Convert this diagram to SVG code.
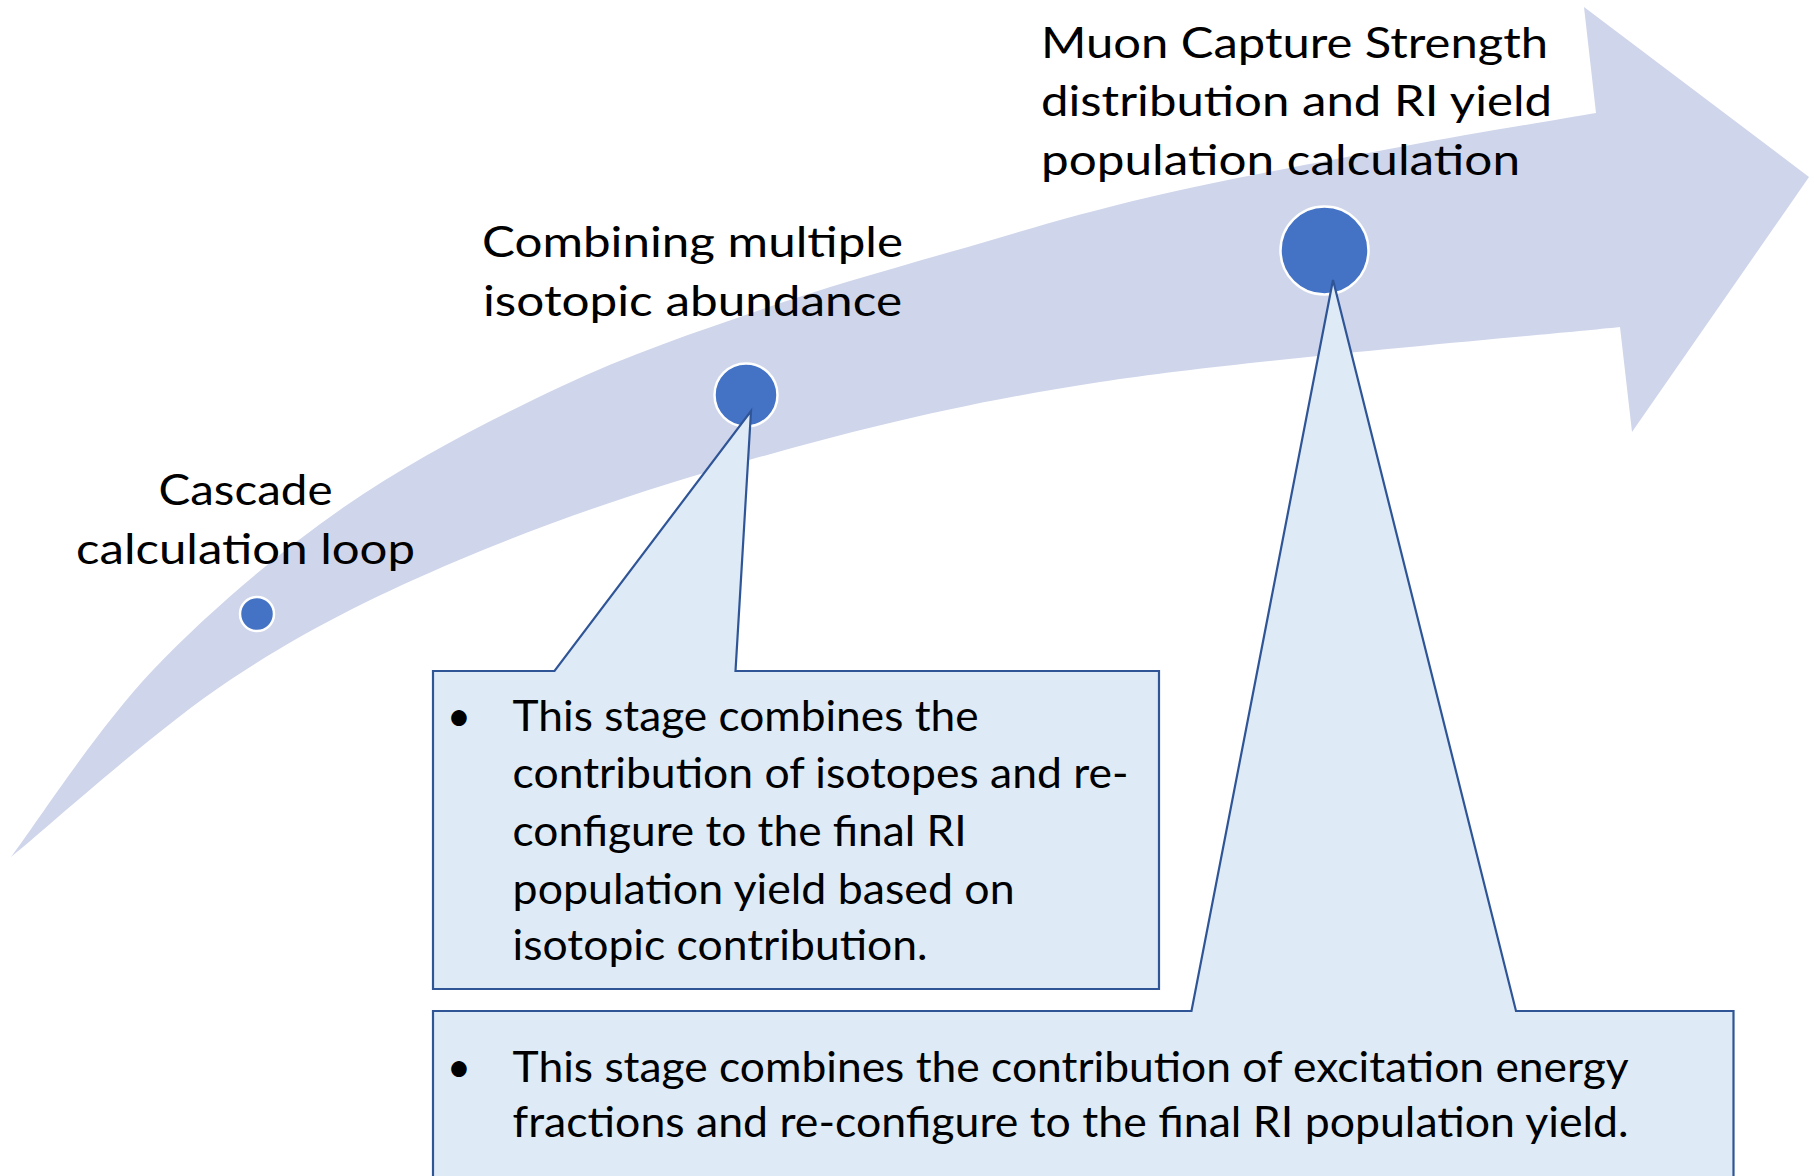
<svg xmlns="http://www.w3.org/2000/svg" width="1814" height="1176" viewBox="0 0 1814 1176">
<style>
  .band { fill: #CFD5EA; stroke: none; }
  .dot { fill: #4472C4; stroke: #FFFFFF; stroke-width: 2.5; }
  .callout { fill: #DEEBF7; stroke: #2F5597; stroke-width: 2.2; stroke-linejoin: miter; }
  .t { font-family: Lato, "Open Sans", "Liberation Sans", sans-serif; font-size: 42px; fill: #000000; }
</style>
<rect x="0" y="0" width="1814" height="1176" fill="#FFFFFF"/>

<g id="arrow">
  <path class="band" d="M 11,857
    C 34.7,825.8 97.5,728.3 153,670
    C 208.5,611.7 276.2,554.2 344,507
    C 411.8,459.8 490.7,419.8 560,387
    C 629.3,354.2 695,332.5 760,310
    C 825,287.5 885,270.8 950,252
    C 1015,233.2 1075,214.5 1150,197
    C 1225,179.5 1325.7,161 1400,147
    C 1474.3,133 1563.3,118.7 1596,113
    L 1584,7 L 1809,177 L 1632,432 L 1620,327
    C 1533.3,336.2 1245.2,359.8 1100,382
    C 954.8,404.2 855.8,430.3 749,460
    C 642.2,489.7 545.5,523.3 459,560
    C 372.5,596.7 304.7,630.5 230,680
    C 155.3,729.5 47.5,827.5 11,857 Z"/>
</g>

<g id="stage1">
  <text class="t" x="245.5" y="505" text-anchor="middle" textLength="174" lengthAdjust="spacingAndGlyphs">Cascade</text>
  <text class="t" x="245.5" y="564" text-anchor="middle" textLength="339" lengthAdjust="spacingAndGlyphs">calculation loop</text>
  <circle class="dot" cx="257" cy="614" r="17"/>
</g>

<g id="stage2">
  <text class="t" x="482" y="257" textLength="421" lengthAdjust="spacingAndGlyphs">Combining multiple</text>
  <text class="t" x="483" y="316" textLength="419" lengthAdjust="spacingAndGlyphs">isotopic abundance</text>
  <circle class="dot" cx="746" cy="395" r="31.5"/>
</g>

<g id="stage3">
  <text class="t" x="1041" y="57.5" textLength="507" lengthAdjust="spacingAndGlyphs">Muon Capture Strength</text>
  <text class="t" x="1041" y="116" textLength="511" lengthAdjust="spacingAndGlyphs">distribution and RI yield</text>
  <text class="t" x="1041" y="174.5" textLength="479" lengthAdjust="spacingAndGlyphs">population calculation</text>
  <circle class="dot" cx="1324.5" cy="250.5" r="44"/>
</g>

<g id="callout1">
  <path class="callout" d="M 433,671 L 554.5,671 L 751,411 L 735.5,671 L 1159,671 L 1159,989 L 433,989 Z"/>
  <text class="t" x="459" y="731" text-anchor="middle">•</text>
  <text class="t" x="512.6" y="731" textLength="466" lengthAdjust="spacingAndGlyphs">This stage combines the</text>
  <text class="t" x="512.6" y="788" textLength="616" lengthAdjust="spacingAndGlyphs">contribution of isotopes and re-</text>
  <text class="t" x="512.6" y="846" textLength="454" lengthAdjust="spacingAndGlyphs">configure to the final RI</text>
  <text class="t" x="512.6" y="903.5" textLength="502" lengthAdjust="spacingAndGlyphs">population yield based on</text>
  <text class="t" x="512.6" y="960" textLength="415" lengthAdjust="spacingAndGlyphs">isotopic contribution.</text>
</g>

<g id="callout2">
  <path class="callout" d="M 433,1011 L 1191.5,1011 L 1333,280 L 1516,1011 L 1733.5,1011 L 1733.5,1182 L 433,1182 Z"/>
  <text class="t" x="459" y="1082" text-anchor="middle">•</text>
  <text class="t" x="512.6" y="1082" textLength="1116" lengthAdjust="spacingAndGlyphs">This stage combines the contribution of excitation energy</text>
  <text class="t" x="512.6" y="1137" textLength="1116" lengthAdjust="spacingAndGlyphs">fractions and re-configure to the final RI population yield.</text>
</g>
</svg>
